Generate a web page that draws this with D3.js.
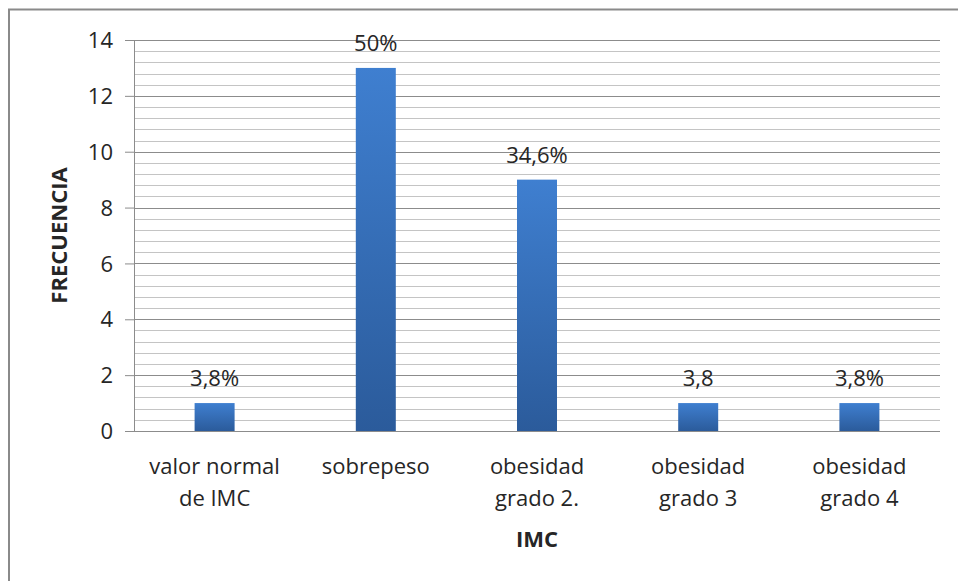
<!DOCTYPE html>
<html><head><meta charset="utf-8">
<script src="https://cdn.jsdelivr.net/npm/d3@7"></script>
<style>body{margin:0;background:#fff}svg{display:block}text{font-family:"Open Sans",sans-serif;fill:#262626}</style>
</head><body><svg id="c" width="958" height="581"></svg>
<script>
const categories = [["valor normal","de IMC"],["sobrepeso"],["obesidad","grado 2."],["obesidad","grado 3"],["obesidad","grado 4"]];
const values = [1, 13, 9, 1, 1];
const dataLabels = ["3,8%","50%","34,6%","3,8","3,8%"];
const yTicks = [0,2,4,6,8,10,12,14];
const yTitle = "FRECUENCIA";
const xTitle = "IMC";

const svg = d3.select("#c");
const m = {l:134, r:940, t:40, b:431};
const x = d3.scaleBand().domain(d3.range(categories.length)).range([m.l, m.r]);
const y = d3.scaleLinear().domain([0,14]).range([m.b, m.t]);
const fs = "22px";

// outer frame
svg.append("path").attr("d","M9,581 V9.5 H958").attr("fill","none").attr("stroke","#8a8a8a").attr("stroke-width",2);

const defs = svg.append("defs");
const g = defs.append("linearGradient").attr("id","bg").attr("x1",0).attr("y1",0).attr("x2",0).attr("y2",1);
g.append("stop").attr("offset","0%").attr("stop-color","#3f7fd0");
g.append("stop").attr("offset","100%").attr("stop-color","#2b5b9b");

// minor gridlines
const minor = d3.range(0, 14.001, 0.4).filter(v => Math.abs(v/2 - Math.round(v/2)) > 1e-6);
svg.append("g").selectAll("line").data(minor).join("line")
  .attr("x1", m.l).attr("x2", m.r).attr("y1", d => Math.round(y(d))+0.5).attr("y2", d => Math.round(y(d))+0.5)
  .attr("stroke","#c4c4c4").attr("stroke-width",1);
// major gridlines
svg.append("g").selectAll("line").data(yTicks.filter(d=>d>0)).join("line")
  .attr("x1", m.l).attr("x2", m.r).attr("y1", d => Math.round(y(d))+0.5).attr("y2", d => Math.round(y(d))+0.5)
  .attr("stroke","#8c8c8c").attr("stroke-width",1);

// y axis
const ya = svg.append("g").attr("transform",`translate(${m.l},0)`)
  .call(d3.axisLeft(y).tickValues(yTicks).tickSize(9).tickPadding(12));
ya.select(".domain").attr("stroke","#8c8c8c").attr("d",`M0.5,${m.t}V${m.b}`);
ya.selectAll(".tick line").attr("stroke","#8c8c8c");
ya.selectAll(".tick text").style("font-size",fs).attr("fill","#262626").attr("dy","0.35em");

// x axis line
svg.append("line").attr("x1",125).attr("x2",m.r).attr("y1",m.b+0.5).attr("y2",m.b+0.5).attr("stroke","#8c8c8c");

// bars
const bw = 40;
svg.append("g").selectAll("rect").data(values).join("rect")
  .attr("x",(d,i)=> x(i)+x.bandwidth()/2 - bw/2).attr("width",bw)
  .attr("y", d=>y(d)).attr("height", d=> y(0)-y(d))
  .attr("fill","url(#bg)");

// data labels
svg.append("g").selectAll("text").data(values).join("text")
  .attr("x",(d,i)=> x(i)+x.bandwidth()/2).attr("y", d=>y(d)-17)
  .attr("text-anchor","middle").style("font-size",fs)
  .text((d,i)=>dataLabels[i]);

// category labels
const cl = svg.append("g").selectAll("text").data(categories).join("text")
  .attr("x",(d,i)=> x(i)+x.bandwidth()/2).attr("y",474)
  .attr("text-anchor","middle").style("font-size",fs);
cl.each(function(d,i){
  const t = d3.select(this);
  d.forEach((s,j)=> t.append("tspan").attr("x", x(i)+x.bandwidth()/2).attr("dy", j? 32:0).text(s));
});

// titles
svg.append("text").attr("x",(m.l+m.r)/2).attr("y",547).attr("text-anchor","middle")
  .style("font-size",fs).style("font-weight","bold").text(xTitle);
svg.append("text").attr("transform",`translate(67,${(m.t+m.b)/2}) rotate(-90)`).attr("text-anchor","middle")
  .style("font-size",fs).style("font-weight","bold").text(yTitle);
</script></body></html>
